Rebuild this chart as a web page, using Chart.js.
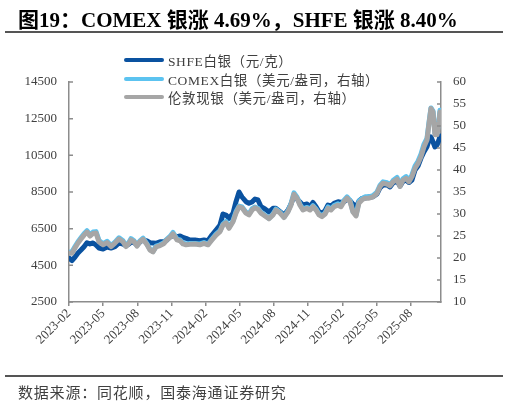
<!DOCTYPE html>
<html>
<head>
<meta charset="utf-8">
<script src="https://cdn.jsdelivr.net/npm/chart.js@4.4.1/dist/chart.umd.min.js"></script>
<style>
  body { margin: 0; background: #fff; width: 509px; height: 406px; overflow: hidden; position: relative;
         font-family: "Liberation Serif", "Noto Sans CJK SC", serif; }
  canvas { position: absolute; left: 0; top: 0; }
  #title { position: absolute; left: 18px; top: 3px; font-size: 21px; font-weight: bold; color: #000; white-space: nowrap; z-index: 2; }
  .rule { position: absolute; left: 5px; width: 498px; height: 1.5px; background: #555; z-index: 2; }
  #legend { position: absolute; left: 124px; top: 51px; z-index: 2; }
  .item { height: 18.5px; display: flex; align-items: center; font-size: 13.5px; color: #404040; white-space: nowrap; letter-spacing: 0.6px; }
  .swatch { width: 40px; height: 4px; margin-right: 4px; border-radius: 2px; }
  #source { position: absolute; left: 18px; top: 381px; font-size: 15px; color: #404040; letter-spacing: 0.8px;
            font-family: "Noto Sans CJK SC", sans-serif; z-index: 2; white-space: nowrap; }
</style>
</head>
<body>
<canvas id="silverChart" width="509" height="406"></canvas>
<div id="title">图19：COMEX 银涨 4.69%，SHFE 银涨 8.40%</div>
<div class="rule" style="top:31px"></div>
<div id="legend"></div>
<div class="rule" style="top:375px"></div>
<div id="source">数据来源：同花顺，国泰海通证券研究</div>

<script>
// months since 2023-02 for each sample
const monthPos = [
  0, 0.26, 0.53, 0.79, 1.05, 1.32, 1.58, 1.84, 2.11, 2.37,
  2.63, 2.99, 3.34, 3.69, 4.04, 4.39, 4.74, 5.00, 5.27, 5.44,
  5.71, 5.97, 6.23, 6.50, 6.85, 7.11, 7.37, 7.64, 7.99, 8.34,
  8.60, 8.87, 9.13, 9.48, 9.75, 10.01, 10.27, 10.62, 11.06, 11.50,
  11.85, 12.20, 12.55, 12.91, 13.26, 13.52, 13.78, 14.05, 14.40, 14.66,
  14.93, 15.19, 15.54, 15.80, 16.07, 16.33, 16.59, 16.86, 17.21, 17.56,
  17.91, 18.17, 18.53, 18.88, 19.23, 19.49, 19.75, 20.02, 20.28, 20.54,
  20.90, 21.16, 21.42, 21.69, 21.95, 22.21, 22.48, 22.74, 23.00, 23.27,
  23.62, 23.88, 24.14, 24.41, 24.67, 24.93, 25.20, 25.46, 25.72, 25.99,
  26.34, 26.69, 27.04, 27.30, 27.57, 27.92, 28.18, 28.45, 28.80, 29.06,
  29.32, 29.59, 29.85, 30.11, 30.38, 30.64, 30.90, 31.17, 31.43, 31.61,
  31.78, 31.96, 32.13, 32.31, 32.48, 32.57
];

// SHFE silver (left axis)
const shfeSilver = [
  4900, 4764, 4955, 5173, 5336, 5516, 5735, 5664, 5718, 5609,
  5445, 5391, 5500, 5445, 5516, 5718, 5664, 5555, 5664, 5773,
  5745, 5609, 5773, 5882, 5827, 5735, 5718, 5700, 5789, 5789,
  5882, 6045, 6127, 6062, 6100, 6018, 5975, 5882, 5882, 5844,
  5882, 5844, 6155, 6427, 6700, 7300, 7245, 7065, 7338, 7971,
  8500, 8227, 7971, 7884, 7955, 8118, 8064, 7698, 7573, 7409,
  7611, 7611, 7425, 7245, 7518, 7845, 8282, 8118, 7955, 7791,
  7845, 7698, 7927, 7698, 7425, 7338, 7480, 7791, 7736, 7884,
  7971, 7927, 7971, 8102, 8036, 7845, 7682, 8009, 8145, 8173,
  8227, 8244, 8391, 8718, 8882, 8882, 8773, 8991, 9100, 8827,
  9073, 9155, 9018, 9155, 9700, 9918, 10338, 10698, 10971, 11336,
  11500, 11227, 10955, 11064, 11336, 11555
];

// COMEX silver, USD/oz (right axis)
const comexSilver = [
  21.3, 21.4, 22.6, 23.7, 24.6, 25.5, 26.2, 25.3, 25.9, 26.0,
  24.0, 23.2, 23.8, 22.8, 23.6, 24.6, 23.9, 22.8, 23.6, 24.4,
  23.9, 22.9, 23.9, 24.5, 23.2, 22.0, 21.5, 22.7, 23.0, 23.5,
  24.3, 24.9, 25.8, 24.3, 24.1, 23.4, 23.2, 23.3, 23.3, 23.2,
  23.5, 23.1, 24.3, 25.4, 26.2, 27.7, 28.3, 27.0, 28.5, 30.5,
  31.8, 31.6, 30.4, 30.0, 31.2, 31.6, 31.3, 30.4, 29.7, 29.0,
  30.0, 31.1, 30.4, 29.3, 30.7, 32.3, 34.8, 33.8, 32.2, 31.1,
  31.5, 31.1, 31.9, 31.1, 30.0, 29.6, 30.2, 31.6, 31.1, 31.9,
  32.3, 31.9, 33.1, 33.9, 33.1, 30.6, 29.8, 32.9, 33.5, 33.9,
  33.9, 34.2, 35.0, 36.5, 37.3, 37.1, 36.6, 37.6, 38.3, 36.5,
  38.0, 38.5, 37.6, 38.9, 40.9, 42.0, 43.6, 45.9, 47.2, 50.9,
  54.1, 53.4, 48.3, 48.4, 51.3, 53.6
];

// London spot silver, USD/oz (right axis)
const londonSilver = [
  21.1, 21.1, 22.3, 23.4, 24.3, 25.2, 25.9, 25.0, 25.6, 25.7,
  23.7, 23.0, 23.5, 22.6, 23.4, 24.3, 23.7, 22.6, 23.4, 24.1,
  23.7, 22.7, 23.7, 24.25, 23.0, 21.8, 21.4, 22.5, 22.8, 23.3,
  24.1, 24.7, 25.5, 24.1, 23.9, 23.2, 23.0, 23.1, 23.2, 23.0,
  23.3, 23.0, 24.1, 25.2, 26.0, 27.5, 28.0, 26.75, 28.25, 30.2,
  31.6, 31.4, 30.2, 29.8, 30.9, 31.4, 31.1, 30.2, 29.55, 28.9,
  29.8, 30.9, 30.2, 29.2, 30.5, 32.0, 34.5, 33.6, 32.0, 30.9,
  31.3, 30.9, 31.65, 30.9, 29.8, 29.4, 30.0, 31.3, 30.9, 31.65,
  32.0, 31.65, 32.8, 33.6, 32.8, 30.45, 29.55, 32.5, 33.2, 33.6,
  33.6, 33.9, 34.7, 36.2, 37.0, 36.8, 36.4, 37.3, 37.9, 36.25,
  37.7, 38.1, 37.3, 38.5, 40.4, 41.5, 43.0, 45.3, 46.8, 50.6,
  54.0, 53.2, 48.0, 48.0, 50.9, 53.2
];

const xTickMonths = [0, 3, 6, 9, 12, 15, 18, 21, 24, 27, 30];
const xTickLabels = ['2023-02', '2023-05', '2023-08', '2023-11', '2024-02', '2024-05',
                     '2024-08', '2024-11', '2025-02', '2025-05', '2025-08'];
const leftTicks = [2500, 4500, 6500, 8500, 10500, 12500, 14500];
const rightTicks = [10, 15, 20, 25, 30, 35, 40, 45, 50, 55, 60];

const seriesNames = ['SHFE白银（元/克）', 'COMEX白银（美元/盎司，右轴）', '伦敦现银（美元/盎司，右轴）'];
const seriesColors = ['#0a52a0', '#5cc3f0', '#a6a6a6'];

const axisColor = '#8c8c8c';
const tickFont = { family: '"Liberation Serif", serif', size: 13 };

// html legend
const legendBox = document.getElementById('legend');
seriesNames.forEach((name, i) => {
  const row = document.createElement('div');
  row.className = 'item';
  row.innerHTML = `<span class="swatch" style="background:${seriesColors[i]}"></span>${name}`;
  legendBox.appendChild(row);
});

function toPoints(values) {
  return values.map((v, i) => ({ x: monthPos[i], y: v }));
}

// small inward tick marks on both value axes
const innerTicks = {
  id: 'innerTicks',
  afterDraw(chart) {
    const ctx = chart.ctx;
    const yL = chart.scales.yL;
    const yR = chart.scales.yR;
    ctx.save();
    ctx.strokeStyle = axisColor;
    ctx.lineWidth = 1.5;
    ctx.beginPath();
    leftTicks.forEach(v => {
      const y = yL.getPixelForValue(v);
      ctx.moveTo(yL.right, y);
      ctx.lineTo(yL.right + 4, y);
    });
    rightTicks.forEach(v => {
      const y = yR.getPixelForValue(v);
      ctx.moveTo(yR.left, y);
      ctx.lineTo(yR.left - 4, y);
    });
    ctx.stroke();
    ctx.restore();
  }
};

new Chart(document.getElementById('silverChart').getContext('2d'), {
  type: 'line',
  data: {
    datasets: [
      { label: seriesNames[0], data: toPoints(shfeSilver), yAxisID: 'yL', borderColor: seriesColors[0], order: 3 },
      { label: seriesNames[1], data: toPoints(comexSilver), yAxisID: 'yR', borderColor: seriesColors[1], order: 2 },
      { label: seriesNames[2], data: toPoints(londonSilver), yAxisID: 'yR', borderColor: seriesColors[2], order: 1 }
    ]
  },
  options: {
    responsive: false,
    animation: false,
    layout: { padding: { top: 82, left: 0, right: 0, bottom: 0 } },
    elements: {
      line: { borderWidth: 5, tension: 0, borderJoinStyle: 'round', borderCapStyle: 'round', fill: false },
      point: { radius: 0 }
    },
    plugins: { legend: { display: false }, tooltip: { enabled: false } },
    scales: {
      x: {
        type: 'linear',
        min: 0,
        max: 32.66,
        afterBuildTicks: s => { s.ticks = xTickMonths.map(v => ({ value: v })); },
        afterFit: s => { s.height = 104; },
        grid: { display: true, drawOnChartArea: false, drawTicks: true, tickLength: 4, color: axisColor, lineWidth: 1.5 },
        border: { display: true, color: axisColor, width: 1.5 },
        ticks: {
          minRotation: 45, maxRotation: 45, padding: 0, autoSkip: false,
          color: '#404040', font: tickFont,
          callback: v => xTickLabels[xTickMonths.indexOf(v)]
        }
      },
      yL: {
        position: 'left',
        min: 2500,
        max: 14500,
        afterBuildTicks: s => { s.ticks = leftTicks.map(v => ({ value: v })); },
        afterFit: s => { s.width = 69; },
        grid: { display: true, drawOnChartArea: false, drawTicks: false },
        border: { display: true, color: axisColor, width: 1.5 },
        ticks: { padding: 12, color: '#404040', font: tickFont, callback: v => String(v) }
      },
      yR: {
        position: 'right',
        min: 10,
        max: 60,
        afterBuildTicks: s => { s.ticks = rightTicks.map(v => ({ value: v })); },
        afterFit: s => { s.width = 68; },
        grid: { display: true, drawOnChartArea: false, drawTicks: false },
        border: { display: true, color: axisColor, width: 1.5 },
        ticks: { padding: 12, color: '#404040', font: tickFont, callback: v => String(v) }
      }
    }
  },
  plugins: [innerTicks]
});
</script>
</body>
</html>
